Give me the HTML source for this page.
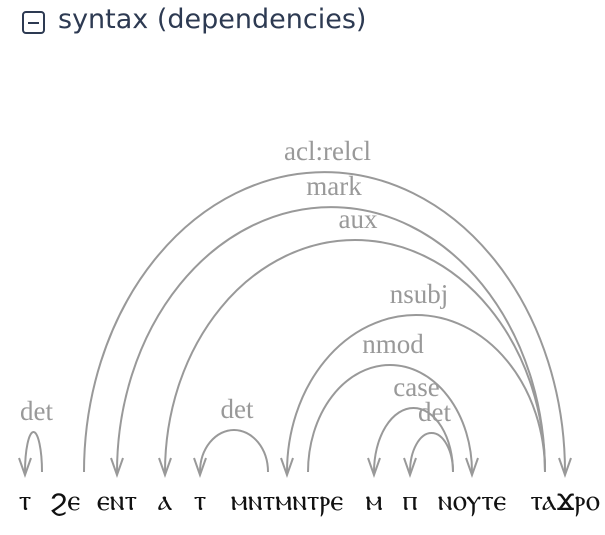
<!DOCTYPE html>
<html><head><meta charset="utf-8"><style>
html,body{margin:0;padding:0;background:#fff;width:605px;height:535px;overflow:hidden}
#icon{position:absolute;left:22px;top:11px;width:19px;height:19px;border:2px solid #2d3a52;border-radius:4px;box-sizing:content-box}
#icon:after{content:"";position:absolute;left:4px;right:4px;top:8.5px;height:2px;background:#2d3a52}
#ttl{position:absolute;left:58px;top:4px;white-space:nowrap;font-family:"DejaVu Sans","Liberation Sans",sans-serif;font-size:27px;color:#2d3a52}
svg{position:absolute;left:0;top:0}
</style></head><body>
<div id="icon"></div>
<span id="ttl">syntax (dependencies)</span>
<svg id="chart" width="605" height="535"></svg>
<script>
const words=["ⲧ","ϩⲉ","ⲉⲛⲧ","ⲁ","ⲧ","ⲙⲛⲧⲙⲛⲧⲣⲉ","ⲙ","ⲡ","ⲛⲟⲩⲧⲉ","ⲧⲁϫⲣⲟ"];
const wordX=[25,65,117,165,200,287,374,410,472,565];
const relLabels=["det","acl:relcl","mark","aux","nsubj","nmod","det","case","det"];
const relFromX=[42,84,545,545,545,308,268,453,453];
const relToX=[25,565,117,165,287,472,200,374,410];
const relApexY=[432,172,207,240,315,365,430,408,433];
const svg=document.getElementById('chart');
const NS="http://www.w3.org/2000/svg";
const baseY=472, tipY=475;
words.forEach((w,i)=>{
  const t=document.createElementNS(NS,'text');
  
  
  t.setAttribute('x',wordX[i]);t.setAttribute('y',510);
  t.setAttribute('text-anchor','middle');
  t.setAttribute('font-family','"DejaVu Sans",sans-serif');
  t.setAttribute('font-size','29');t.setAttribute('fill','#111');
  t.textContent=w;svg.appendChild(t);
});
relLabels.forEach((lab,i)=>{
  const x1=relFromX[i],x2=relToX[i],apex=relApexY[i];
  const rx=Math.abs(x2-x1)/2, ry=baseY-apex;
  const sweep=x2>x1?1:0;
  const p=document.createElementNS(NS,'path');
  
  
  p.setAttribute('d',`M${x1},${baseY} A${rx},${ry} 0 0 ${sweep} ${x2},${baseY} L${x2},${tipY}`);
  p.setAttribute('fill','none');p.setAttribute('stroke','#999');p.setAttribute('stroke-width','2');
  svg.appendChild(p);
  const a=document.createElementNS(NS,'path');
  
  
  a.setAttribute('d',`M${x2-6},${tipY-17} L${x2},${tipY} L${x2+6},${tipY-17}`);
  a.setAttribute('fill','none');a.setAttribute('stroke','#999');a.setAttribute('stroke-width','2');
  svg.appendChild(a);
  const t=document.createElementNS(NS,'text');
  
  
  t.setAttribute('x',(x1+x2)/2+3);t.setAttribute('y',apex-12);
  t.setAttribute('text-anchor','middle');
  t.setAttribute('font-family','"Liberation Serif",serif');
  t.setAttribute('font-size','27');t.setAttribute('fill','#999');
  t.textContent=lab;svg.appendChild(t);
});
</script>
</body></html>
